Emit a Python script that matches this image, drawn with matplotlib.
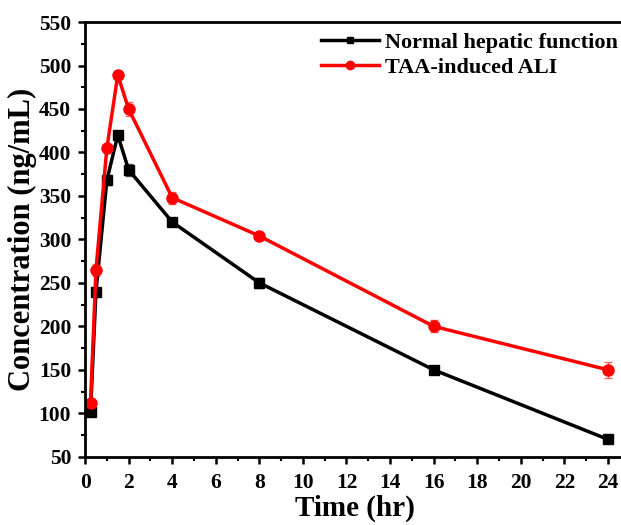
import matplotlib
matplotlib.use("Agg")
import matplotlib.pyplot as plt
from matplotlib.lines import Line2D
from matplotlib.ticker import MultipleLocator

time_hr = [0.25, 0.5, 1, 1.5, 2, 4, 8, 16, 24]
normal_conc = [102, 240, 368, 420, 380, 320, 250, 150, 70]
normal_err = [3, 4, 5, 4, 7, 4, 6, 4, 4]
ali_conc = [112, 265, 405, 489, 450, 348, 304, 200, 150]
ali_err = [5, 7, 4, 5, 8, 7, 5, 7, 9]

plt.rcParams['font.family'] = ['Liberation Serif', 'DejaVu Serif']
plt.rcParams['font.weight'] = 'bold'

fig = plt.figure(figsize=(6.21, 5.25), dpi=100)
# the right edge of the box runs just past the picture, as in the original
ax = fig.add_axes([0.137, 0.130, 0.87, 0.828])

ax.errorbar(time_hr, normal_conc, yerr=normal_err, color='black', lw=2.5,
            marker='s', ms=7, capsize=3, elinewidth=1, ecolor='#555555')
ax.errorbar(time_hr, ali_conc, yerr=ali_err, color='#ff0000', lw=2.5,
            marker='o', ms=8, capsize=3, elinewidth=1, ecolor='#ff6060')

ax.set_xlim(0, 24.8)
ax.set_ylim(50, 550)
ax.xaxis.set_major_locator(MultipleLocator(2))
ax.xaxis.set_minor_locator(MultipleLocator(1))
ax.yaxis.set_major_locator(MultipleLocator(50))
ax.yaxis.set_minor_locator(MultipleLocator(25))
ax.tick_params(which='major', direction='out', length=5, width=1.8, labelsize=15.5)
ax.tick_params(which='minor', direction='out', length=3, width=1.5)
ax.tick_params(axis='x', which='major', pad=7)
ax.tick_params(axis='y', which='major', pad=5)
for lbl in ax.get_xticklabels() + ax.get_yticklabels():
    lbl.set_fontweight('bold')
for s in ax.spines.values():
    s.set_linewidth(2)

ax.set_xlabel('Time (hr)', fontsize=21, fontweight='bold', labelpad=1)
ax.set_ylabel('Concentration (ng/mL)', fontsize=22, fontweight='bold', labelpad=1)

handles = [
    Line2D([0], [0], color='black', lw=2.5, marker='s', ms=5),
    Line2D([0], [0], color='#ff0000', lw=2.5, marker='o', ms=6),
]
ax.legend(handles, ['Normal hepatic function', 'TAA-induced ALI'],
          loc='upper right', bbox_to_anchor=(1.01, 0.956), bbox_transform=fig.transFigure,
          frameon=False, prop={'weight': 'bold', 'size': 16},
          handlelength=2.6, borderaxespad=0.0, labelspacing=0.2, handletextpad=0.3)

fig.savefig('out.png', dpi=100)
